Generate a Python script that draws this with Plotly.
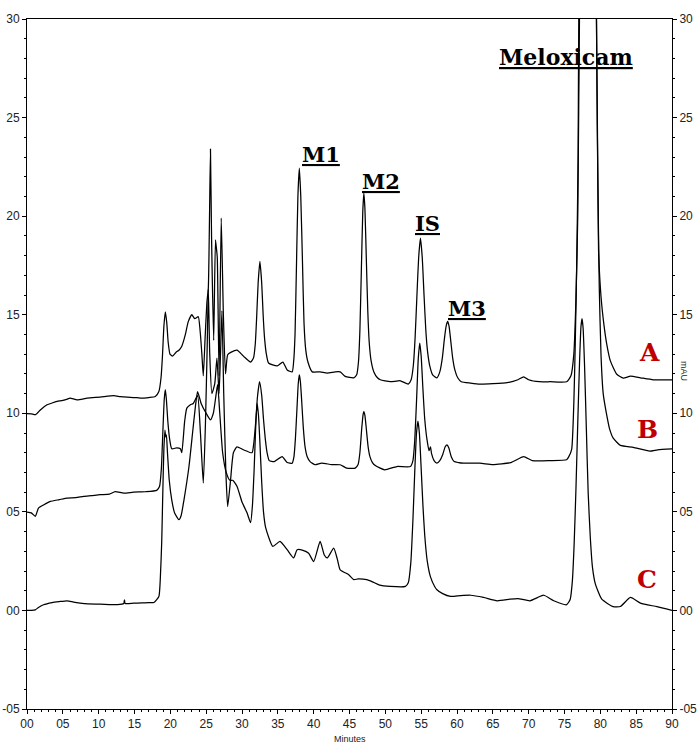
import plotly.graph_objects as go

# Retention time (min) and detector response for the three chromatograms
time_a = [0.0, 0.6, 1.2, 1.9, 2.8, 3.5, 4.2, 5.0, 5.6, 6.0, 7.0, 8.4, 10.2, 12.1, 13.0, 14.0, 15.0, 15.8,
          17.0, 17.9, 18.4, 18.7, 18.9, 19.1, 19.3, 19.5, 19.7, 19.95, 20.3, 20.8, 21.2, 21.6, 22.1,
          22.5, 23.0, 23.4, 23.9, 24.15, 24.4, 24.6, 24.85, 25.1, 25.3, 25.45, 25.6, 25.75, 26.05,
          26.3, 26.45, 26.55, 26.8, 27.1, 27.4, 27.7, 28.0, 28.5, 29.3, 30.2, 31.2, 31.6, 31.85, 32.05,
          32.25, 32.5, 32.75, 32.95, 33.15, 33.4, 33.7, 34.9, 35.7, 36.3, 37.0, 37.2, 37.4, 37.6, 37.8,
          38.0, 38.2, 38.45, 38.65, 38.9, 39.2, 39.8, 40.9, 41.9, 43.0, 43.7, 44.4, 45.6, 46.0, 46.25,
          46.45, 46.65, 46.85, 47.0, 47.15, 47.35, 47.55, 47.75, 48.0, 48.4, 48.9, 49.3, 50.7, 52.1,
          53.2, 53.6, 53.9, 54.15, 54.4, 54.65, 54.9, 55.15, 55.4, 55.65, 55.9, 56.2, 56.6, 57.2, 57.6,
          57.95, 58.25, 58.5, 58.7, 58.9, 59.15, 59.4, 59.7, 60.1, 60.6, 61.9, 63.2, 65.0, 67.0, 68.5,
          69.3, 70.0, 71.5, 73.0, 75.3, 75.9, 76.3, 76.6, 76.85, 77.1, 77.6, 78.3, 79.0, 79.45, 79.75,
          80.1, 80.5, 80.9, 81.4, 82.3, 83.2, 84.2, 85.6, 87.4, 90.0]
signal_a = [9.98, 9.97, 9.93, 10.18, 10.43, 10.52, 10.6, 10.65, 10.72, 10.77, 10.68, 10.77, 10.82, 10.89,
            10.85, 10.82, 10.8, 10.77, 10.8, 10.85, 11.1, 11.8, 12.9, 14.4, 15.15, 14.6, 13.6, 13.0,
            12.9, 13.1, 13.2, 13.4, 14.0, 14.65, 15.0, 14.8, 14.9, 14.2, 13.0, 11.9, 13.8, 15.6, 16.35,
            19.5, 23.4, 19.0, 13.7, 18.8, 18.3, 17.9, 11.9, 19.9, 15.0, 12.0, 12.97, 13.1, 13.2, 12.9,
            12.6, 12.8, 13.5, 14.9, 16.6, 17.7, 16.6, 15.0, 13.8, 13.0, 12.55, 12.4, 12.6, 12.2, 12.1,
            12.6, 14.0, 17.5, 21.0, 22.43, 21.0, 17.5, 14.6, 13.2, 12.6, 12.1, 12.1, 12.04, 12.1, 12.1,
            11.87, 11.8, 11.95, 12.6, 14.2, 17.2, 20.2, 21.17, 20.4, 17.8, 15.2, 13.6, 12.7, 12.1, 11.8,
            11.7, 11.6, 11.65, 11.48, 11.7, 12.4, 13.8, 15.9, 17.9, 18.88, 17.9, 16.0, 14.2, 13.1, 12.4,
            11.95, 11.8, 12.1, 12.8, 13.8, 14.45, 14.66, 14.4, 13.6, 12.8, 12.2, 11.8, 11.6, 11.53,
            11.48, 11.5, 11.55, 11.7, 11.85, 11.7, 11.6, 11.6, 11.6, 11.9, 13.0, 15.8, 20.0, 30.5, 45.0,
            55.0, 45.0, 30.5, 18.3, 15.9, 14.5, 13.5, 12.66, 11.98, 11.78, 11.88, 11.8, 11.7, 11.7]

time_b = [0.0, 0.6, 1.16, 1.6, 2.3, 3.25, 4.5, 5.6, 6.8, 7.9, 9.0, 10.2, 11.5, 12.3, 13.5, 14.9, 16.5,
          18.1, 18.5, 18.75, 18.95, 19.15, 19.3, 19.45, 19.65, 19.9, 20.2, 20.9, 21.4, 21.6, 22.0,
          22.3, 22.8, 23.2, 23.8, 24.2, 24.6, 24.9, 25.15, 25.3, 25.5, 25.8, 26.2, 26.5, 26.8, 27.0,
          27.2, 27.45, 27.75, 28.0, 28.4, 28.8, 29.3, 30.2, 31.4, 31.65, 31.9, 32.15, 32.45, 32.75,
          33.0, 33.25, 33.5, 33.8, 34.5, 35.6, 36.3, 37.0, 37.25, 37.45, 37.65, 37.85, 38.0, 38.15,
          38.35, 38.55, 38.8, 39.1, 39.5, 40.2, 41.1, 42.5, 43.7, 44.6, 45.8, 46.2, 46.45, 46.7, 46.9,
          47.0, 47.15, 47.35, 47.6, 47.85, 48.2, 48.6, 49.9, 51.6, 53.5, 53.85, 54.1, 54.35, 54.6,
          54.8, 55.0, 55.25, 55.5, 55.8, 56.1, 56.3, 56.45, 56.8, 57.2, 57.6, 58.0, 58.35, 58.6, 58.85,
          59.2, 59.6, 60.2, 60.9, 63.2, 65.0, 67.5, 69.3, 70.5, 73.0, 75.3, 75.6, 76.0, 76.3, 76.5,
          76.7, 76.9, 77.0, 77.6, 78.3, 79.0, 79.45, 79.65, 79.85, 80.1, 80.4, 80.9, 81.3, 81.8, 82.8,
          84.6, 86.9, 88.0, 90.0]
signal_b = [4.99, 4.95, 4.77, 5.19, 5.35, 5.53, 5.62, 5.7, 5.72, 5.78, 5.82, 5.87, 5.9, 6.03, 5.95, 6.0,
            6.02, 6.09, 6.3, 7.2, 9.0, 10.7, 11.2, 10.7, 9.6, 8.7, 8.2, 8.25, 8.2, 8.0, 9.6, 10.26,
            10.43, 10.5, 10.9, 9.0, 6.46, 9.5, 13.5, 16.3, 13.0, 11.0, 11.5, 12.8, 11.0, 13.0, 15.2,
            11.0, 7.0, 5.27, 6.6, 8.0, 8.3, 8.15, 8.0, 8.5, 9.5, 10.8, 11.6, 10.9, 9.7, 8.7, 8.0, 7.6,
            7.55, 7.8, 7.5, 7.47, 7.8, 8.7, 10.1, 11.5, 11.95, 11.6, 10.5, 9.3, 8.3, 7.8, 7.55, 7.39,
            7.47, 7.4, 7.39, 7.22, 7.22, 7.4, 8.0, 9.2, 9.95, 10.09, 9.9, 9.2, 8.3, 7.8, 7.5, 7.35, 7.13,
            7.3, 7.3, 7.6, 8.6, 10.6, 12.8, 13.56, 12.9, 11.2, 9.7, 8.7, 8.1, 8.3, 7.95, 7.6, 7.47, 7.6,
            7.9, 8.3, 8.4, 8.25, 7.8, 7.55, 7.5, 7.47, 7.47, 7.4, 7.5, 7.8, 7.6, 7.6, 7.64, 7.8, 8.17,
            10.5, 13.5, 17.5, 23.0, 30.5, 42.0, 50.0, 42.0, 30.5, 22.0, 16.4, 12.9, 11.0, 9.9, 9.2,
            8.74, 8.37, 8.27, 8.08, 8.15, 8.2]

time_c = [0.0, 0.6, 1.16, 1.6, 2.3, 3.5, 4.5, 5.6, 6.5, 7.4, 8.5, 10.2, 11.5, 12.6, 13.5, 13.6, 13.7,
          14.9, 16.0, 17.0, 17.7, 18.4, 18.6, 18.8, 18.95, 19.1, 19.25, 19.35, 19.45, 19.6, 19.85, 20.2,
          20.6, 21.2, 21.5, 21.9, 22.6, 23.1, 23.5, 23.8, 24.3, 25.0, 25.6, 26.0, 26.4, 26.6, 26.9,
          27.3, 27.8, 28.3, 28.7, 29.3, 30.0, 30.7, 31.2, 31.45, 31.7, 31.9, 32.1, 32.3, 32.5, 32.75,
          33.0, 33.3, 34.3, 35.3, 36.3, 37.2, 37.7, 38.5, 39.3, 40.0, 40.9, 41.5, 41.9, 42.8, 43.3,
          43.7, 44.9, 45.6, 46.2, 47.4, 48.2, 49.1, 50.7, 52.8, 53.2, 53.55, 53.85, 54.1, 54.35, 54.55,
          54.75, 55.0, 55.25, 55.5, 55.85, 56.3, 56.9, 57.2, 58.0, 59.1, 60.5, 61.9, 63.7, 65.6, 67.4,
          68.5, 70.2, 72.1, 73.5, 75.3, 75.8, 76.1, 76.35, 76.6, 76.85, 77.1, 77.3, 77.45, 77.6, 77.8,
          78.05, 78.3, 78.6, 78.9, 79.3, 80.2, 81.8, 82.8, 84.2, 85.6, 87.9, 90.0]
signal_c = [0.0, 0.0, 0.03, 0.15, 0.29, 0.4, 0.45, 0.49, 0.42, 0.37, 0.33, 0.32, 0.3, 0.29, 0.35, 0.54,
            0.35, 0.37, 0.38, 0.4, 0.4, 0.71, 1.6, 3.5, 6.0, 8.2, 9.15, 8.8, 8.9, 8.0, 6.6, 5.6, 4.94,
            4.6, 4.8, 5.6, 7.3, 9.0, 10.35, 11.1, 10.5, 10.0, 9.67, 10.0, 11.0, 11.45, 10.0, 8.0, 7.0,
            6.6, 6.6, 6.3, 5.5, 4.95, 4.45, 5.3, 7.2, 9.2, 10.5, 9.9, 8.5, 6.5, 5.0, 4.2, 3.25, 3.5,
            3.08, 2.66, 3.08, 3.05, 2.9, 2.48, 3.5, 2.8, 2.66, 3.16, 2.6, 2.06, 1.81, 1.56, 1.6, 1.56,
            1.45, 1.3, 1.22, 1.22, 1.4, 2.4, 4.6, 7.0, 9.0, 9.6, 9.0, 7.2, 5.3, 3.8, 2.5, 1.7, 1.2,
            1.05, 0.85, 0.71, 0.75, 0.77, 0.66, 0.49, 0.57, 0.6, 0.49, 0.77, 0.49, 0.29, 0.57, 1.5,
            3.4, 6.2, 9.5, 12.6, 14.4, 14.8, 14.3, 12.4, 9.2, 6.0, 3.7, 2.2, 1.35, 0.57, 0.19, 0.2,
            0.66, 0.37, 0.19, 0.0]

x_ticks = [0, 5, 10, 15, 20, 25, 30, 35, 40, 45, 50, 55, 60, 65, 70, 75, 80, 85, 90]
x_tick_text = ["00", "05", "10", "15", "20", "25", "30", "35", "40", "45", "50", "55", "60",
               "65", "70", "75", "80", "85", "90"]
y_ticks = [-5, 0, 5, 10, 15, 20, 25, 30]
y_tick_text = ["-05", "00", "05", "10", "15", "20", "25", "30"]

peak_names = ["M1", "M2", "IS", "M3", "Meloxicam"]
trace_names = ["A", "B", "C"]

LINE = dict(color="black", width=1.25, shape="spline", smoothing=0.5)
TICKFONT = dict(family="Liberation Sans Narrow, Liberation Sans, Arial", size=12, color="#222222")
LABELFONT = dict(family="DejaVu Serif", size=21, color="black", weight="bold")
TRACEFONT = dict(family="DejaVu Serif", size=25, color="#c00000", weight="bold")

fig = go.Figure()
for t, s, n in [(time_a, signal_a, trace_names[0]), (time_b, signal_b, trace_names[1]),
                (time_c, signal_c, trace_names[2])]:
    fig.add_trace(go.Scatter(x=t, y=s, mode="lines", line=LINE, name=n,
                             showlegend=False, hoverinfo="skip"))
# anchor for the right-hand mAU axis
fig.add_trace(go.Scatter(x=[None], y=[None], yaxis="y2", showlegend=False, hoverinfo="skip"))

axis_common = dict(showgrid=False, zeroline=False, showline=True, linecolor="black",
                   linewidth=1, ticks="outside", tickcolor="black", tickwidth=1, ticklen=4,
                   tickfont=TICKFONT, automargin=False)
minor_ticks = dict(dtick=1, ticks="outside", ticklen=2, tickcolor="black")

fig.update_layout(
    width=697, height=746,
    margin=dict(l=27, r=25, t=19, b=37),
    paper_bgcolor="white", plot_bgcolor="white",
    xaxis=dict(range=[0, 90], tickvals=x_ticks, ticktext=x_tick_text, mirror=True,
               minor=minor_ticks, **axis_common),
    yaxis=dict(range=[-5, 30], tickvals=y_ticks, ticktext=y_tick_text,
               minor=minor_ticks, **axis_common),
    yaxis2=dict(range=[-5, 30], tickvals=y_ticks, ticktext=y_tick_text, overlaying="y",
                side="right", anchor="x", minor=minor_ticks, **axis_common),
)

# peak labels
label_pos = [(38.1, 22.4), (46.5, 21.0), (53.9, 18.9), (58.5, 14.6), (65.6, 27.3)]
for i, (name, (x, y)) in enumerate(zip(peak_names, label_pos)):
    font = dict(LABELFONT, size=22) if i == len(peak_names) - 1 else LABELFONT
    fig.add_annotation(x=x, y=y, text="<u>" + name + "</u>", showarrow=False,
                       xanchor="left", yanchor="bottom", font=font)

# sample labels
trace_label_pos = [(86.8, 13.1), (86.65, 9.16), (86.5, 1.56)]
for name, (x, y) in zip(trace_names, trace_label_pos):
    fig.add_annotation(x=x, y=y, text=name, showarrow=False, font=TRACEFONT)

fig.add_annotation(xref="paper", yref="paper", x=0.5, y=0, yshift=-37, text="Minutes",
                   showarrow=False, yanchor="bottom",
                   font=dict(family="Liberation Sans Narrow, Liberation Sans", size=9, color="#222222"))
fig.add_annotation(xref="paper", yref="paper", x=1, xshift=19, y=0.49, text="mAU",
                   showarrow=False, textangle=90,
                   font=dict(family="Liberation Sans Narrow, Liberation Sans", size=9, color="#222222"))

fig.write_html("out.html")
